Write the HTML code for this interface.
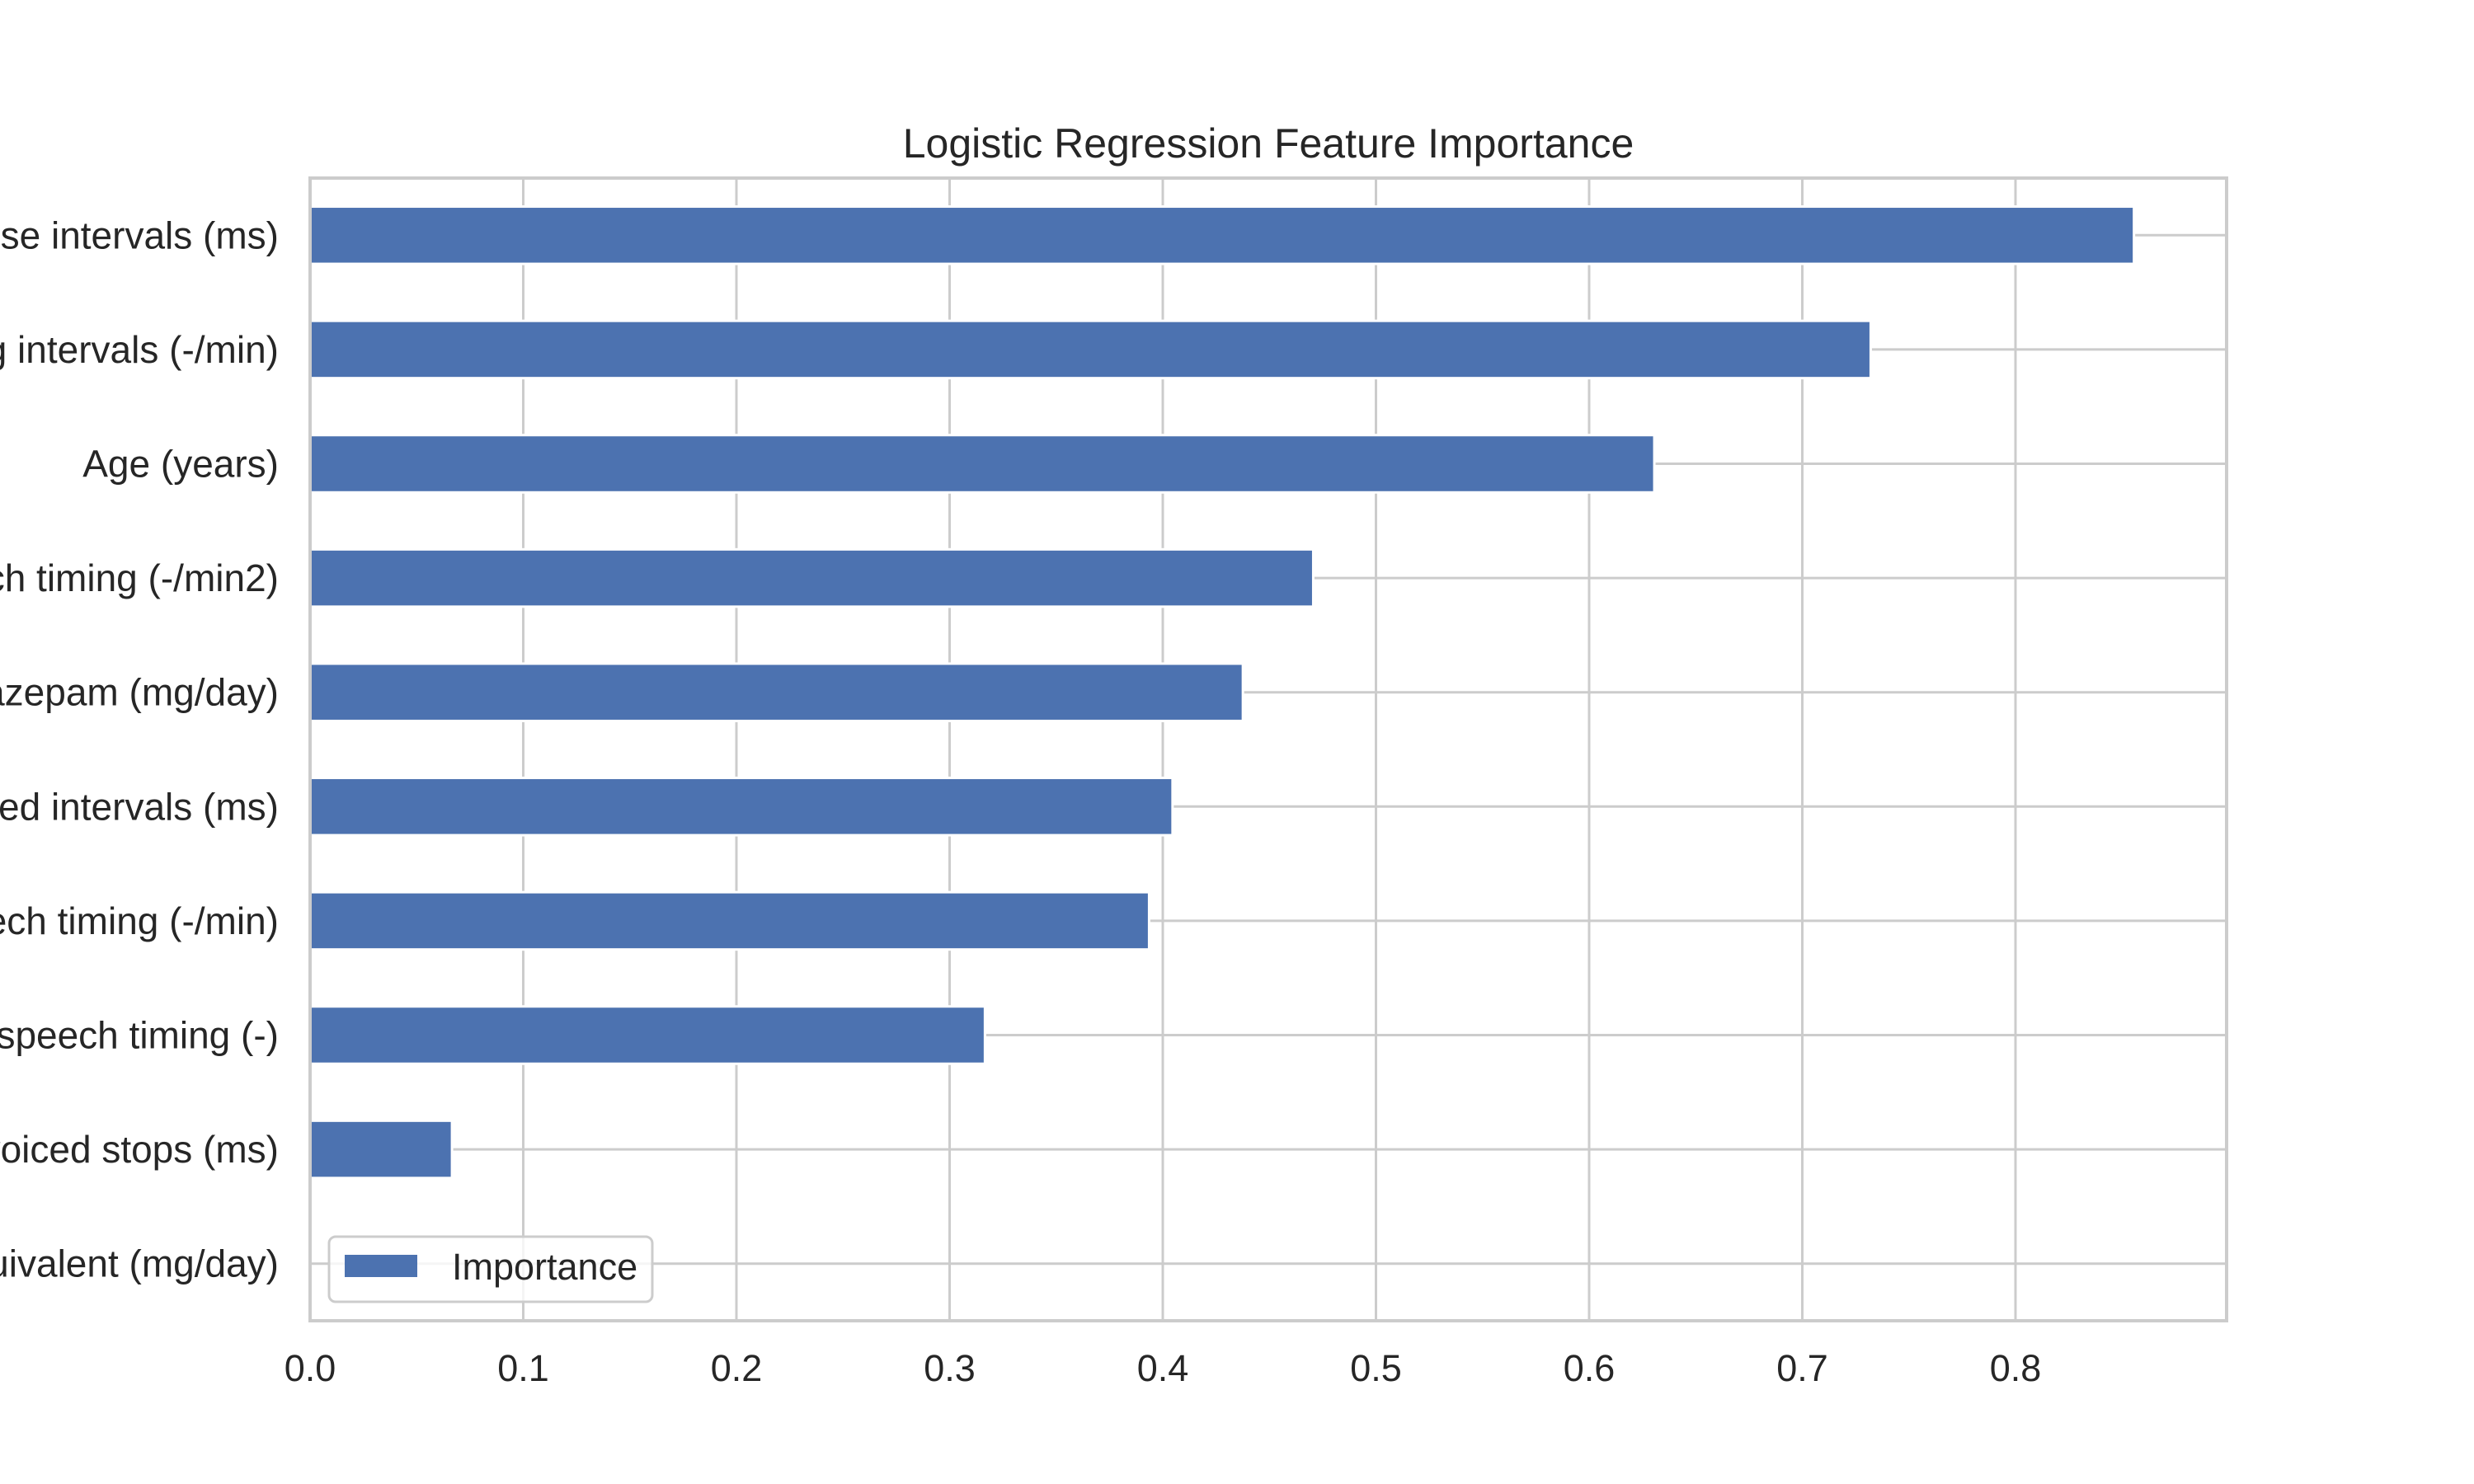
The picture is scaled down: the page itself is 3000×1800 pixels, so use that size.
<!DOCTYPE html>
<html><head><meta charset="utf-8"><style>
html,body{margin:0;padding:0;background:#fff;}
svg{display:block;font-family:"Liberation Sans",Arial,sans-serif;}
</style></head><body>
<svg id="chart" width="3000" height="1800" viewBox="0 0 3000 1800">
<rect width="3000" height="1800" fill="#fff"/>
<text x="1538" y="191" text-anchor="middle" font-size="50" fill="#262626">Logistic Regression Feature Importance</text>
<g id="grid"></g><g id="bars"></g><g id="labels"></g>
<rect x="376" y="216" width="2324" height="1386" fill="none" stroke="#cccccc" stroke-width="4"/>
<g>
<rect x="399" y="1500" width="392" height="79" rx="8" fill="#fff" fill-opacity="0.8" stroke="#cccccc" stroke-width="3"/>
<rect x="418" y="1522" width="88" height="27" fill="#4c72b0"/>
<text x="548" y="1552" font-size="45" fill="#262626">Importance</text>
</g>
</svg>
<script>
const categories=["Duration of pause intervals (ms)","Rate of speech timing intervals (-/min)","Age (years)","Acceleration of speech timing (-/min2)","Clonazepam (mg/day)","Duration of voiced intervals (ms)","Rate of speech timing (-/min)","Entropy of speech timing (-)","Gaping in-between voiced stops (ms)","Levodopa equivalent (mg/day)"];
const values=[0.855,0.7315,0.630,0.470,0.437,0.404,0.393,0.316,0.066,0.0];
const ticks=[0,0.1,0.2,0.3,0.4,0.5,0.6,0.7,0.8];
const tickLabels=["0.0","0.1","0.2","0.3","0.4","0.5","0.6","0.7","0.8"];
const NS="http://www.w3.org/2000/svg";
const X0=376,X1=2700,Y0=216,Y1=1602,XMAX=(X1-X0)/2585;
const xs=v=>X0+v/XMAX*(X1-X0);
const step=(Y1-Y0)/categories.length;
const yc=i=>Y0+step*(i+0.5);
function mk(t,a,p){const e=document.createElementNS(NS,t);for(const k in a)e.setAttribute(k,a[k]);p.appendChild(e);return e;}
const grid=document.getElementById('grid'),bars=document.getElementById('bars'),labels=document.getElementById('labels');
ticks.forEach((t,i)=>{
  const l=mk('line',{x1:xs(t),x2:xs(t),y1:Y0,y2:Y1,stroke:'#cccccc','stroke-width':3},grid);
  
  
  const tx=mk('text',{x:xs(t),y:1675,'text-anchor':'middle','font-size':45,fill:'#262626'},labels);
  tx.textContent=tickLabels[i];
  
  
});
categories.forEach((c,i)=>{
  const g=mk('line',{x1:X0,x2:X1,y1:yc(i),y2:yc(i),stroke:'#cccccc','stroke-width':3},grid);
  
  
  const h=step*0.48;
  const b=mk('rect',{x:X0,y:yc(i)-h/2,width:Math.max(0,xs(values[i])-X0),height:h,fill:'#4c72b0',stroke:'#fff','stroke-width':values[i]>0?6:0,'paint-order':'stroke'},bars);
  
  
  const t=mk('text',{x:338,y:yc(i)+16,'text-anchor':'end','font-size':46,fill:'#262626'},labels);
  t.textContent=c;
  
  
});
</script>
</body></html>
